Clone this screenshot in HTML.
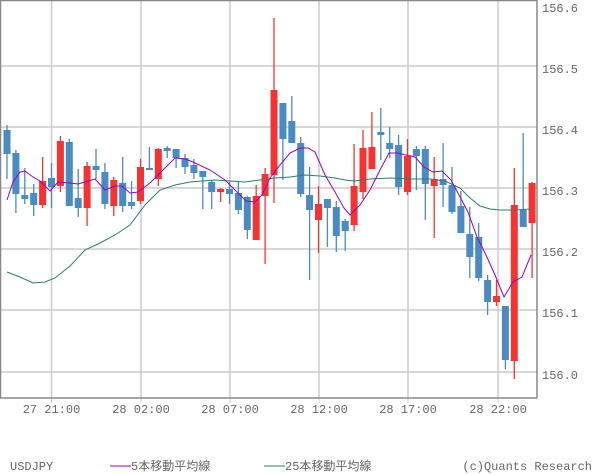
<!DOCTYPE html>
<html><head><meta charset="utf-8"><style>
body{margin:0;background:#fff;}
svg{display:block;font-family:"Liberation Mono","Noto Sans CJK JP",monospace;}
</style></head><body>
<svg width="600" height="475" xmlns="http://www.w3.org/2000/svg">
<g stroke="#cccccc" stroke-width="1.5">
<line x1="0" y1="66" x2="537" y2="66"/><line x1="0" y1="127" x2="537" y2="127"/><line x1="0" y1="188" x2="537" y2="188"/><line x1="0" y1="249" x2="537" y2="249"/><line x1="0" y1="310" x2="537" y2="310"/><line x1="0" y1="372" x2="537" y2="372"/>
<line x1="51.5" y1="0" x2="51.5" y2="398"/><line x1="141" y1="0" x2="141" y2="398"/><line x1="230" y1="0" x2="230" y2="398"/><line x1="319" y1="0" x2="319" y2="398"/><line x1="408" y1="0" x2="408" y2="398"/><line x1="498" y1="0" x2="498" y2="398"/>
</g>
<g stroke="#cccccc"><line x1="51.5" y1="398" x2="51.5" y2="403"/><line x1="141" y1="398" x2="141" y2="403"/><line x1="230" y1="398" x2="230" y2="403"/><line x1="319" y1="398" x2="319" y2="403"/><line x1="408" y1="398" x2="408" y2="403"/><line x1="498" y1="398" x2="498" y2="403"/></g>
<!-- blue candles -->
<g stroke="#4a8bc2" stroke-width="1.3">
<line x1="7" x2="7" y1="125" y2="179"/><line x1="15.9" x2="15.9" y1="150" y2="213"/><line x1="24.8" x2="24.8" y1="168" y2="204"/><line x1="33.7" x2="33.7" y1="184" y2="216"/><line x1="51.5" x2="51.5" y1="163" y2="208"/><line x1="69.3" x2="69.3" y1="139" y2="206"/><line x1="78.2" x2="78.2" y1="169" y2="217"/><line x1="96" x2="96" y1="149" y2="179"/><line x1="104.9" x2="104.9" y1="163" y2="209"/><line x1="122.7" x2="122.7" y1="157" y2="212"/><line x1="131.6" x2="131.6" y1="181" y2="209"/><line x1="149.4" x2="149.4" y1="147" y2="169"/><line x1="167.2" x2="167.2" y1="146" y2="158"/><line x1="176.1" x2="176.1" y1="150" y2="168"/><line x1="185" x2="185" y1="154" y2="174"/><line x1="193.9" x2="193.9" y1="159" y2="179"/>
<line x1="202.8" x2="202.8" y1="171" y2="209"/><line x1="211.7" x2="211.7" y1="180" y2="209"/><line x1="229.5" x2="229.5" y1="182" y2="204"/><line x1="238.4" x2="238.4" y1="182" y2="214"/><line x1="247.3" x2="247.3" y1="196" y2="239"/><line x1="282.9" x2="282.9" y1="103" y2="180"/><line x1="291.8" x2="291.8" y1="96" y2="143"/><line x1="300.7" x2="300.7" y1="137" y2="197"/><line x1="309.6" x2="309.6" y1="167" y2="280"/><line x1="327.4" x2="327.4" y1="199" y2="247"/><line x1="336.3" x2="336.3" y1="201" y2="252"/><line x1="345.2" x2="345.2" y1="219" y2="251"/>
<line x1="380.8" x2="380.8" y1="108" y2="160"/><line x1="389.7" x2="389.7" y1="127" y2="158"/><line x1="398.6" x2="398.6" y1="135" y2="195"/><line x1="416.4" x2="416.4" y1="146" y2="190"/><line x1="425.3" x2="425.3" y1="146" y2="220"/><line x1="443.1" x2="443.1" y1="143" y2="207"/><line x1="452" x2="452" y1="167" y2="214"/><line x1="460.9" x2="460.9" y1="191" y2="233"/><line x1="469.8" x2="469.8" y1="207" y2="278"/><line x1="478.7" x2="478.7" y1="223" y2="281"/><line x1="487.6" x2="487.6" y1="275" y2="315"/><line x1="505.4" x2="505.4" y1="306" y2="369"/><line x1="523.2" x2="523.2" y1="133" y2="227"/>
</g>
<g fill="#4a8bc2">
<rect x="3.5" y="130" width="7" height="24"/><rect x="12.4" y="153" width="7" height="41"/><rect x="21.3" y="195" width="7" height="4"/><rect x="30.2" y="193" width="7" height="12"/><rect x="48" y="178" width="7" height="9"/><rect x="65.8" y="142" width="7" height="64"/><rect x="74.7" y="198" width="7" height="10"/><rect x="92.5" y="166" width="7" height="4"/><rect x="101.4" y="172" width="7" height="32"/><rect x="119.2" y="183" width="7" height="23"/><rect x="128.1" y="202" width="7" height="4"/><rect x="145.9" y="168" width="7" height="2"/><rect x="163.7" y="148" width="7" height="3"/><rect x="172.6" y="149" width="7" height="9"/><rect x="181.5" y="158" width="7" height="9"/><rect x="190.4" y="165" width="7" height="8"/>
<rect x="199.3" y="171" width="7" height="6"/><rect x="208.2" y="182" width="7" height="10"/><rect x="226" y="189" width="7" height="5"/><rect x="234.9" y="193" width="7" height="17"/><rect x="243.8" y="197" width="7" height="33"/><rect x="279.4" y="103" width="7" height="36"/><rect x="288.3" y="121" width="7" height="22"/><rect x="297.2" y="143" width="7" height="51"/><rect x="306.1" y="195" width="7" height="15"/><rect x="323.9" y="199" width="7" height="9"/><rect x="332.8" y="207" width="7" height="29"/><rect x="341.7" y="221" width="7" height="10"/>
<rect x="377.3" y="132" width="7" height="3"/><rect x="386.2" y="143" width="7" height="6"/><rect x="395.1" y="145" width="7" height="42"/><rect x="412.9" y="149" width="7" height="7"/><rect x="421.8" y="149" width="7" height="35"/><rect x="439.6" y="179" width="7" height="6"/><rect x="448.5" y="185" width="7" height="27"/><rect x="457.4" y="206" width="7" height="27"/><rect x="466.3" y="234" width="7" height="23"/><rect x="475.2" y="237" width="7" height="41"/><rect x="484.1" y="280" width="7" height="22"/><rect x="501.9" y="306" width="7" height="54"/><rect x="519.7" y="210" width="7" height="17"/>
</g>
<!-- red candles -->
<g stroke="#f53333" stroke-width="1.3">
<line x1="42.6" x2="42.6" y1="157" y2="208"/><line x1="60.4" x2="60.4" y1="136" y2="192"/><line x1="87.1" x2="87.1" y1="162" y2="226"/><line x1="113.8" x2="113.8" y1="177" y2="216"/><line x1="140.5" x2="140.5" y1="159" y2="204"/><line x1="158.3" x2="158.3" y1="148" y2="186"/>
<line x1="220.6" x2="220.6" y1="188" y2="202"/><line x1="256.2" x2="256.2" y1="185" y2="240"/><line x1="265.1" x2="265.1" y1="168" y2="264"/><line x1="274" x2="274" y1="18" y2="203"/><line x1="318.5" x2="318.5" y1="186" y2="253"/><line x1="354.1" x2="354.1" y1="144" y2="231"/><line x1="363" x2="363" y1="130" y2="199"/><line x1="371.9" x2="371.9" y1="112" y2="169"/>
<line x1="407.5" x2="407.5" y1="139" y2="195"/><line x1="434.2" x2="434.2" y1="157" y2="238"/><line x1="496.5" x2="496.5" y1="280" y2="306"/><line x1="514.3" x2="514.3" y1="168" y2="379"/><line x1="532.1" x2="532.1" y1="182" y2="278"/>
</g>
<g fill="#f53333">
<rect x="39.1" y="181" width="7" height="24"/><rect x="56.9" y="141" width="7" height="45"/><rect x="83.6" y="166" width="7" height="42"/><rect x="110.3" y="180" width="7" height="26"/><rect x="137" y="167" width="7" height="34"/><rect x="154.8" y="149" width="7" height="30"/>
<rect x="217.1" y="189" width="7" height="3"/><rect x="252.7" y="196" width="7" height="44"/><rect x="261.6" y="174" width="7" height="22"/><rect x="270.5" y="90" width="7" height="85"/><rect x="315" y="204" width="7" height="16"/><rect x="350.6" y="186" width="7" height="39"/><rect x="359.5" y="148" width="7" height="44"/><rect x="368.4" y="147" width="7" height="22"/>
<rect x="404" y="156" width="7" height="36"/><rect x="430.7" y="179" width="7" height="7"/><rect x="493" y="296" width="7" height="6"/><rect x="510.8" y="205" width="7" height="156"/><rect x="528.6" y="183" width="7" height="40"/>
</g>
<polyline fill="none" stroke="#2e7d72" stroke-width="1" points="7,272 20,277 33,283 45,282 55,278 70,266 85,250 100,243 115,235 130,225 145,205 160,190 175,185 190,182 215,180 230,181 245,182 260,180 275,178 290,177 305,175 320,176 335,178 345,180 355,181 370,179 390,178 410,179 430,179 445,181 460,188 470,198 480,206 490,209 500,210 515,210 531,209"/>
<polyline fill="none" stroke="#9900cc" stroke-width="1" points="7,200 13,182 20,172 25,171 33,177 40,181 50,191 58,182 70,183 78,184 85,182 95,179 105,190 115,186 122,186 130,193 138,192 150,183 160,173 175,158 185,159 193,162 210,170 225,180 238,193 246,201 255,202 262,195 270,178 280,165 290,153 300,148 308,148 315,152 325,175 335,192 344,208 350,215 360,205 370,190 380,170 389,153 397,153 406,155 415,157 424,167 433,172 442,171 451,180 459,195 468,212 477,237 486,255 495,275 504,297 513,282 522,277 531,255"/>
<g stroke="#888" stroke-width="1.5" fill="none"><line x1="0.5" y1="0" x2="0.5" y2="398"/><line x1="0" y1="0.5" x2="537" y2="0.5"/><line x1="537" y1="0" x2="537" y2="398"/><line x1="0" y1="398" x2="537" y2="398"/></g>
<g fill="#666" font-size="12">
<text x="542" y="12">156.6</text><text x="542" y="73">156.5</text><text x="542" y="134">156.4</text><text x="542" y="195">156.3</text><text x="542" y="256">156.2</text><text x="542" y="317">156.1</text><text x="542" y="379">156.0</text>
<g text-anchor="middle"><text x="51.5" y="413">27 21:00</text><text x="141" y="413">28 02:00</text><text x="230" y="413">28 07:00</text><text x="319" y="413">28 12:00</text><text x="408" y="413">28 17:00</text><text x="498" y="413">28 22:00</text></g>
<text x="10" y="470">USDJPY</text>
<text x="131" y="470">5本移動平均線</text>
<text x="285" y="470">25本移動平均線</text>
<text x="592" y="470" text-anchor="end">(c)Quants Research</text>
</g>
<line x1="110" y1="466" x2="131" y2="466" stroke="#9900cc"/>
<line x1="264" y1="466" x2="285" y2="466" stroke="#2e7d72"/>
</svg>
</body></html>
